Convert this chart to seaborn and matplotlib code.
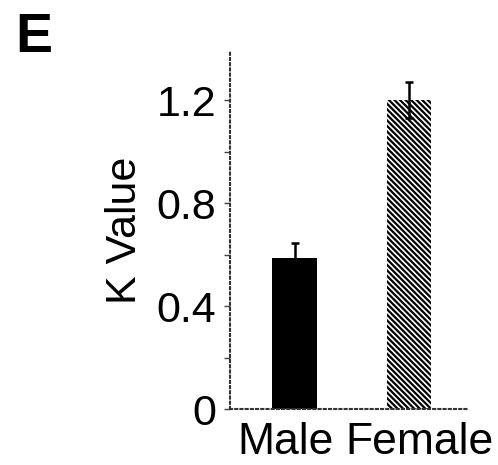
import matplotlib
matplotlib.use("Agg")
import matplotlib.pyplot as plt
import matplotlib.transforms as mtransforms
import numpy as np
import pandas as pd
import seaborn as sns

# Data
groups = ["Male", "Female"]
k_values = [0.585, 1.20]
k_errors = [0.06, 0.068]
y_ticks = [0, 0.2, 0.4, 0.6, 0.8, 1.0, 1.2]
y_tick_labels = ["0", "", "0.4", "", "0.8", "", "1.2"]

sns.set_theme(style="white")
plt.rcParams["font.family"] = ["Liberation Sans", "DejaVu Sans"]
plt.rcParams["text.color"] = "black"
plt.rcParams["axes.labelcolor"] = "black"
plt.rcParams["xtick.color"] = "black"
plt.rcParams["ytick.color"] = "black"
plt.rcParams["hatch.linewidth"] = 1.6

df = pd.DataFrame({"group": groups, "k": k_values})

fig = plt.figure(figsize=(4.98, 4.65), dpi=100)
ax = fig.add_axes([0.462, 0.120, 0.476, 0.768])

sns.barplot(data=df, x="group", y="k", order=groups, errorbar=None,
            width=0.39, ax=ax, linewidth=0)

bars = ax.patches
bars[0].set_facecolor("black")
bars[0].set_edgecolor("black")
bars[1].set_facecolor("white")
bars[1].set_edgecolor("black")
bars[1].set_hatch("\\\\\\\\\\\\")
bars[1].set_linewidth(0)

ax.errorbar(np.arange(len(groups)), k_values, yerr=k_errors, fmt="none",
            ecolor="black", elinewidth=1.8, capsize=3, capthick=1.8, zorder=5)

ax.set_xlim(-0.563, 1.507)
ax.set_ylim(0, 1.386)
ax.set_yticks(y_ticks)
ax.set_yticklabels(y_tick_labels)
ax.tick_params(axis="y", left=True, length=4, width=1, color="#444444",
               labelsize=31, pad=6, direction="out")
ax.tick_params(axis="x", bottom=False, labelsize=32, pad=3)

# nudge category labels apart so the long words do not collide
offsets = [-9, 10]
for lab, dx in zip(ax.get_xticklabels(), offsets):
    lab.set_transform(lab.get_transform() +
                      mtransforms.ScaledTranslation(dx / 100, 0, fig.dpi_scale_trans))

ax.set_xlabel("")
ax.set_ylabel("K Value", fontsize=31, labelpad=8)

for side in ["top", "right"]:
    ax.spines[side].set_visible(False)
for side in ["left", "bottom"]:
    ax.spines[side].set_linestyle((0, (1, 1.5)))
    ax.spines[side].set_linewidth(1.5)
    ax.spines[side].set_color("#333333")

fig.text(0.03, 1 - 52 / 465, "E", fontsize=40, fontweight="bold",
         va="baseline", ha="left")

fig.savefig("out.png", dpi=100)
